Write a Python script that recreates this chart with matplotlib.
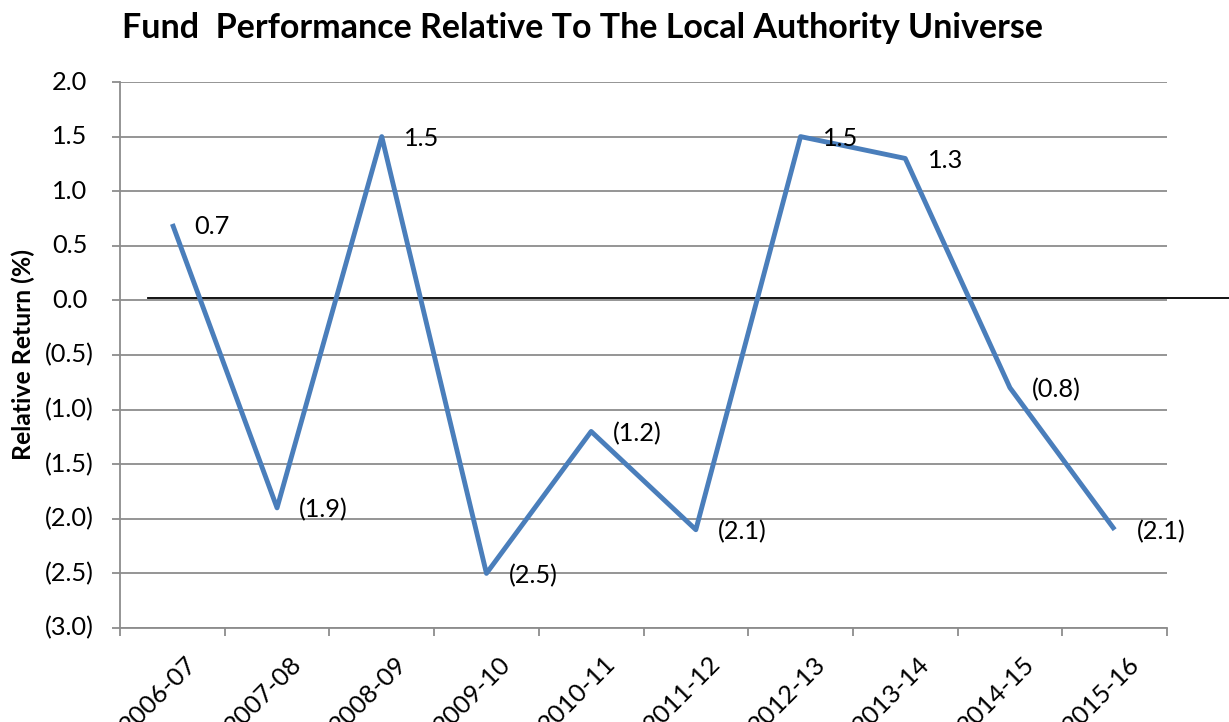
import matplotlib
matplotlib.use("Agg")
import matplotlib.pyplot as plt
import matplotlib.transforms as mtransforms

years = ["2006-07", "2007-08", "2008-09", "2009-10", "2010-11",
         "2011-12", "2012-13", "2013-14", "2014-15", "2015-16"]
relative_return = [0.7, -1.9, 1.5, -2.5, -1.2, -2.1, 1.5, 1.3, -0.8, -2.1]
yticks = [2.0, 1.5, 1.0, 0.5, 0.0, -0.5, -1.0, -1.5, -2.0, -2.5, -3.0]
title = "Fund  Performance Relative To The Local Authority Universe"
ylabel = "Relative Return (%)"


def fmt(v):
    return f"({abs(v):.1f})" if v < 0 else f"{v:.1f}"


plt.rcParams['font.family'] = ['Lato', 'DejaVu Sans']

fig = plt.figure(figsize=(12.29, 7.22), dpi=100)
renderer = fig.canvas.get_renderer()


def text_width(s, size, weight='normal'):
    t = fig.text(0, 0, s, fontsize=size, fontweight=weight)
    w = t.get_window_extent(renderer).width
    t.remove()
    return w


def fit_size(s, target_px, weight='normal'):
    return 10 * target_px / text_width(s, 10, weight)


fs_tick = fit_size("(3.0)", 49)
fs_title = fit_size(title, 923, 'bold')
fs_ylab = fit_size(ylabel, 212, 'bold')
paren_w = text_width("(3.0)", fs_tick) - text_width("(3.0", fs_tick)

ax = fig.add_axes([120/1229, 1-628/722, (1167-120)/1229, (628-82)/722])

grid_c = "#8c8c8c"
x = list(range(len(years)))
ax.set_xlim(-0.5, len(years) - 0.5)
ax.set_ylim(-3.0, 2.0)
ax.set_yticks(yticks)
ax.set_yticklabels([])
ax.yaxis.grid(True, color=grid_c, linewidth=1.3)
ax.set_axisbelow(True)

# y tick labels, Excel-style alignment (positive numbers leave room for ")")
gap_px = 26
for v in yticks:
    off = -gap_px - (paren_w if v >= 0 else 0)
    tr = ax.get_yaxis_transform() + mtransforms.ScaledTranslation(off / 100, 0, fig.dpi_scale_trans)
    ax.text(0, v, fmt(v), transform=tr, fontsize=fs_tick, ha='right', va='center',
            clip_on=False)

# category boundary ticks
ax.set_xticks([i - 0.5 for i in range(len(years) + 1)])
ax.set_xticklabels([])
ax.tick_params(axis='x', length=6, color=grid_c, width=1.3)
ax.tick_params(axis='y', length=6, color=grid_c, width=1.3)
for i, lab in enumerate(years):
    ax.text(i + 0.12, -3.22, lab, fontsize=fs_tick, clip_on=False,
            rotation=45, ha='right', va='top', rotation_mode='anchor')

for s in ['top', 'right']:
    ax.spines[s].set_visible(False)
for s in ['left', 'bottom']:
    ax.spines[s].set_color(grid_c)
    ax.spines[s].set_linewidth(1.3)

# zero reference line
ax.plot([-0.23, 10.1], [0.02, 0.02], color='black', linewidth=1.3,
        clip_on=False, zorder=3)

ax.plot(x, relative_return, color="#4a7ebb", linewidth=3.5, zorder=4,
        solid_capstyle='butt')

for xi, v in zip(x, relative_return):
    ax.annotate(fmt(v), (xi, v), xytext=(16, -1.5), textcoords='offset points',
                ha='left', va='center', fontsize=fs_tick, zorder=5)

ax.set_ylabel(ylabel, fontsize=fs_ylab, fontweight='bold')
ax.yaxis.set_label_coords(-0.081, 0.5)

fig.text(122/1229, 1-28/722, title,
         fontsize=fs_title, fontweight='bold', ha='left', va='center')

fig.savefig("out.png", dpi=100)
